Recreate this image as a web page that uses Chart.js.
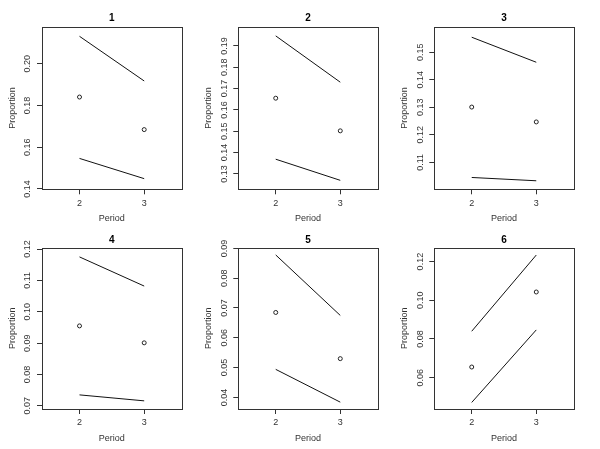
<!DOCTYPE html>
<html>
<head>
<meta charset="utf-8">
<script src="https://cdn.jsdelivr.net/npm/chart.js@4"></script>
<style>
  html, body { margin: 0; padding: 0; background: #fff; }
  #wrap { position: relative; width: 600px; height: 449px; overflow: hidden; background: #fff; }
  canvas { position: absolute; }
</style>
</head>
<body>
<div id="wrap"></div>
<script>
// ---- data ----
const periods = [2, 3];
const xTicks = [2, 3];
const panelTitles = ["1", "2", "3", "4", "5", "6"];
const estimate = [
  [0.1840, 0.1684],
  [0.1655, 0.1502],
  [0.1301, 0.1247],
  [0.0955, 0.0901],
  [0.0685, 0.0530],
  [0.0655, 0.1043]
];
const upper = [
  [0.2131, 0.1917],
  [0.1947, 0.1730],
  [0.1555, 0.1464],
  [0.1175, 0.1082],
  [0.0878, 0.0675],
  [0.0840, 0.1234]
];
const lower = [
  [0.1546, 0.1449],
  [0.1369, 0.1270],
  [0.1045, 0.1033],
  [0.0735, 0.0716],
  [0.0494, 0.0384],
  [0.0472, 0.0847]
];
const yTicks = [
  [0.14, 0.16, 0.18, 0.20],
  [0.13, 0.14, 0.15, 0.16, 0.17, 0.18, 0.19],
  [0.11, 0.12, 0.13, 0.14, 0.15],
  [0.07, 0.08, 0.09, 0.10, 0.11, 0.12],
  [0.04, 0.05, 0.06, 0.07, 0.08, 0.09],
  [0.06, 0.08, 0.10, 0.12]
];
const yMin = [0.1398, 0.1228, 0.1002, 0.0690, 0.0361, 0.0438];
const yMax = [0.2178, 0.1991, 0.1594, 0.1205, 0.0903, 0.1273];
const xMin = 1.42, xMax = 3.58;
const xLabel = "Period";
const yLabel = "Proportion";

// ---- layout ----
const boxL = [42, 238.3, 434.3];
const boxR = [181.7, 377.7, 573.7];
const rowTop = [26.5, 247.5];
const rowBottom = [189.3, 409];
const rowY0 = [0, 225];
const titleCenter = [18.3, 240];
const Y_AXIS_W = 40, X_AXIS_H = 34, CANVAS_H = 224;
const FONT = "'Liberation Sans', Arial, Helvetica, sans-serif";
const INK = '#333';

const boxPlugin = {
  id: 'box',
  afterDatasetsDraw(chart) {
    const a = chart.chartArea, ctx = chart.ctx;
    ctx.save();
    ctx.strokeStyle = INK;
    ctx.lineWidth = 1;
    const l = Math.round(a.left) + 0.5, t = Math.round(a.top) + 0.5;
    const r = Math.round(a.right) + 0.5, b = Math.round(a.bottom) + 0.5;
    ctx.strokeRect(l, t, r - l, b - t);
    ctx.restore();
  }
};

const wrap = document.getElementById('wrap');
for (let i = 0; i < 6; i++) {
  const col = i % 3, row = Math.floor(i / 3);
  const x0 = Math.floor(boxL[col] - Y_AXIS_W);
  const w = col === 2 ? 600 - x0 : 196;
  const y0 = rowY0[row];
  const h = CANVAS_H;
  const cv = document.createElement('canvas');
  cv.width = w; cv.height = h;
  cv.style.left = x0 + 'px'; cv.style.top = y0 + 'px';
  cv.style.width = w + 'px'; cv.style.height = h + 'px';
  wrap.appendChild(cv);

  const tPadTop = (titleCenter[row] - y0) - 5;
  const tPadBottom = (rowTop[row] - y0) - tPadTop - 10;

  new Chart(cv, {
    type: 'line',
    data: {
      datasets: [
        {
          data: periods.map((p, k) => ({x: p, y: upper[i][k]})),
          borderColor: '#111', borderWidth: 1, pointRadius: 0, fill: false, tension: 0
        },
        {
          data: periods.map((p, k) => ({x: p, y: lower[i][k]})),
          borderColor: '#111', borderWidth: 1, pointRadius: 0, fill: false, tension: 0
        },
        {
          data: periods.map((p, k) => ({x: p, y: estimate[i][k]})),
          showLine: false, pointRadius: 2, pointBorderWidth: 1,
          pointBorderColor: '#222', pointBackgroundColor: 'rgba(0,0,0,0)', pointStyle: 'circle'
        }
      ]
    },
    options: {
      responsive: false,
      animation: false,
      devicePixelRatio: 1,
      layout: {
        padding: {
          left: boxL[col] - Y_AXIS_W - x0,
          right: x0 + w - boxR[col],
          top: 0,
          bottom: (y0 + h) - rowBottom[row] - X_AXIS_H
        }
      },
      plugins: {
        legend: { display: false },
        tooltip: { enabled: false },
        title: {
          display: true,
          fullSize: false,
          text: panelTitles[i],
          color: '#000',
          font: { family: FONT, size: 10, weight: 'bold', lineHeight: 1 },
          padding: { top: tPadTop, bottom: tPadBottom }
        }
      },
      scales: {
        x: {
          type: 'linear',
          min: xMin, max: xMax,
          afterBuildTicks(s) { s.ticks = xTicks.map(v => ({value: v})); },
          afterFit(s) { s.height = X_AXIS_H; },
          grid: { display: true, drawOnChartArea: false, drawTicks: true, tickLength: 5, color: INK },
          border: { display: false },
          ticks: {
            autoSkip: false, maxRotation: 0, minRotation: 0, padding: 3.6,
            color: INK, font: { family: FONT, size: 9 },
            callback: v => String(v)
          },
          title: {
            display: true, text: xLabel, color: INK,
            font: { family: FONT, size: 9, lineHeight: 1 },
            padding: { top: 0, bottom: 0 }
          }
        },
        y: {
          type: 'linear',
          min: yMin[i], max: yMax[i],
          afterBuildTicks(s) { s.ticks = yTicks[i].map(v => ({value: v})); },
          afterFit(s) { s.width = Y_AXIS_W; },
          grid: { display: true, drawOnChartArea: false, drawTicks: true, tickLength: 5, color: INK },
          border: { display: false },
          ticks: {
            autoSkip: false, minRotation: 90, maxRotation: 90, crossAlign: 'center',
            padding: 0.25, color: INK, font: { family: FONT, size: 9 },
            callback: v => v.toFixed(2)
          },
          title: {
            display: true, text: yLabel, color: INK,
            font: { family: FONT, size: 9, lineHeight: 1 },
            padding: { top: 6, bottom: 0 }
          }
        }
      }
    },
    plugins: [boxPlugin]
  });
}
</script>
</body>
</html>
